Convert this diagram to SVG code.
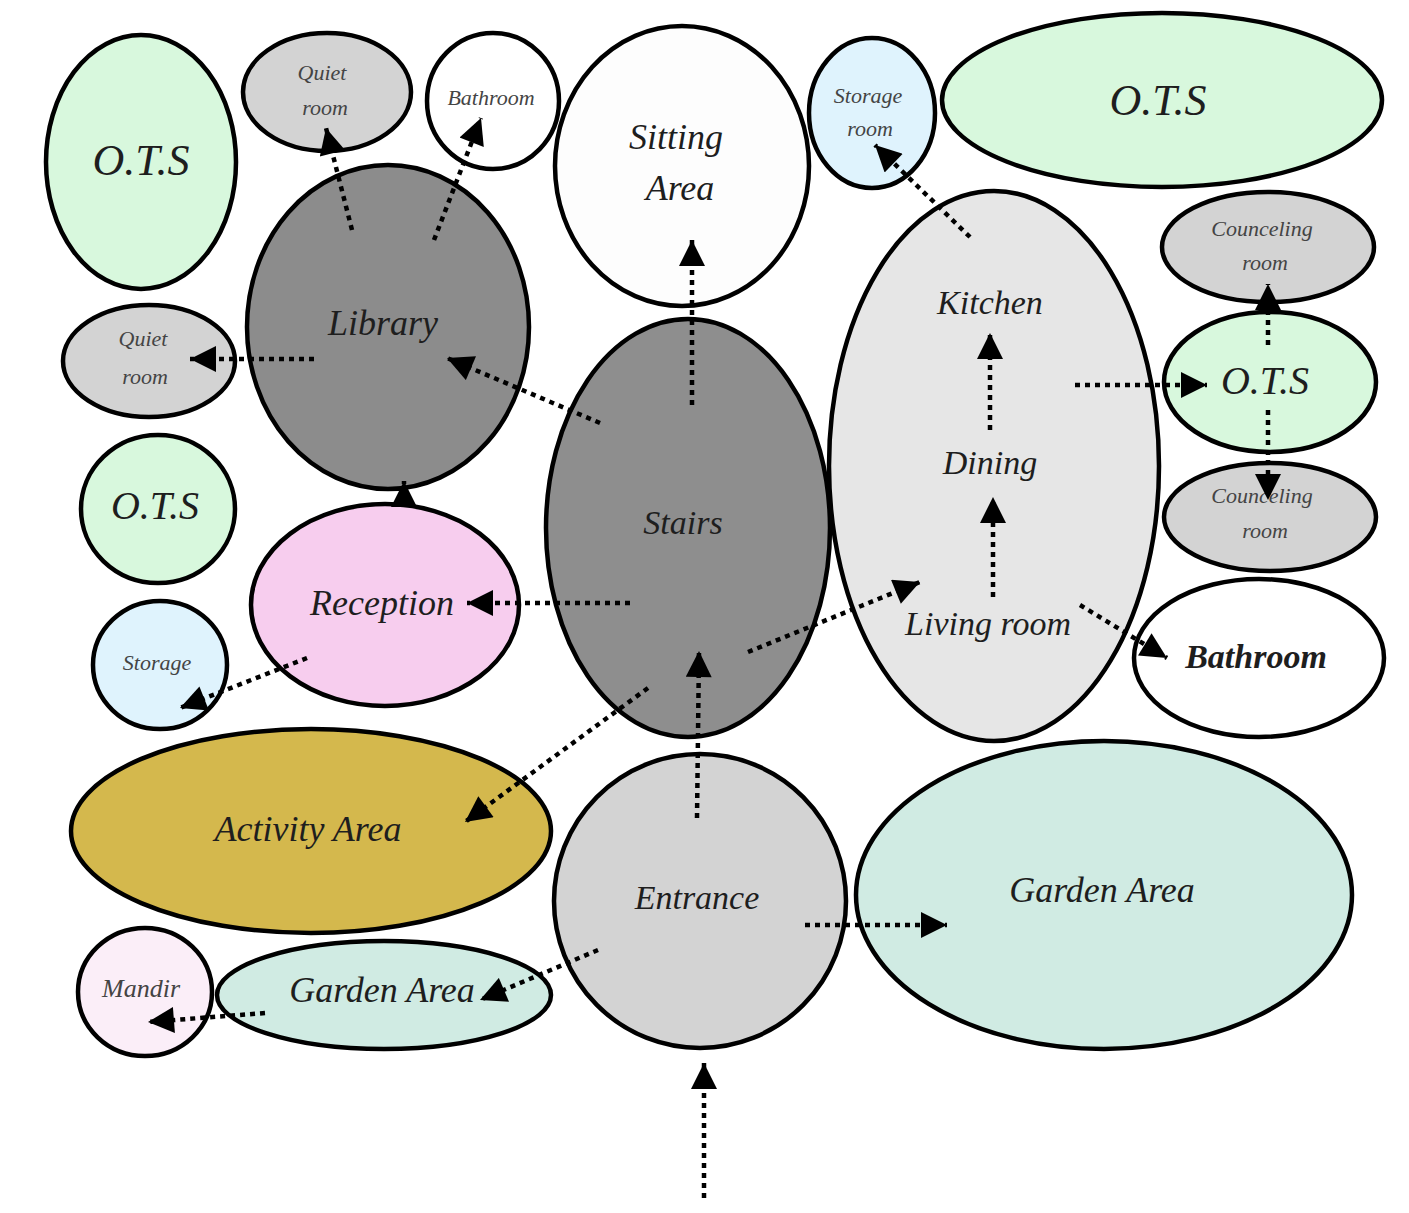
<svg xmlns="http://www.w3.org/2000/svg" width="1409" height="1213" viewBox="0 0 1409 1213">
<style>
.n{stroke:#000;stroke-width:4.5}
.t{font-family:"Liberation Serif","DejaVu Serif",serif;font-style:italic;fill:#1e1e1e;text-anchor:middle;dominant-baseline:central}
.s{fill:#444}
.c{stroke:#000;stroke-width:4.5;stroke-dasharray:5 5;fill:none}
</style>
<defs>
<marker id="ah" viewBox="0 0 10 10" refX="10" refY="5" markerUnits="userSpaceOnUse" markerWidth="28" markerHeight="26" orient="auto">
<path d="M0,0 L10,5 L0,10 z" fill="#000"/>
</marker>
</defs>
<rect width="1409" height="1213" fill="#fff"/>
<g id="ots-tl"><ellipse class="n" cx="141" cy="162" rx="95" ry="127" fill="#d8f8dd"/><text class="t" x="141" y="160" font-size="44">O.T.S</text></g>
<g id="quiet-top"><ellipse class="n" cx="327" cy="92" rx="84" ry="59" fill="#d3d3d3"/><text class="t s" x="322" y="72" font-size="22">Quiet</text><text class="t s" x="325" y="107" font-size="22">room</text></g>
<g id="bath-top"><ellipse class="n" cx="493" cy="101" rx="66" ry="68" fill="#fff"/><text class="t s" x="491" y="97" font-size="22">Bathroom</text></g>
<g id="sitting"><ellipse class="n" cx="682" cy="166" rx="127" ry="140" fill="#fdfdfd"/><text class="t" x="676" y="137" font-size="36">Sitting</text><text class="t" x="680" y="188" font-size="36">Area</text></g>
<g id="storage-room"><ellipse class="n" cx="872" cy="113" rx="63" ry="75" fill="#dff3fd"/><text class="t s" x="868" y="95" font-size="22">Storage</text><text class="t s" x="870" y="128" font-size="22">room</text></g>
<g id="ots-tr"><ellipse class="n" cx="1162" cy="100" rx="220" ry="87" fill="#d8f8dd"/><text class="t" x="1158" y="100" font-size="44">O.T.S</text></g>
<g id="library"><ellipse class="n" cx="388" cy="327" rx="141" ry="162" fill="#8c8c8c"/><text class="t" x="383" y="323" font-size="36">Library</text></g>
<g id="quiet-left"><ellipse class="n" cx="149" cy="361" rx="86" ry="56" fill="#d3d3d3"/><text class="t s" x="143" y="338" font-size="22">Quiet</text><text class="t s" x="145" y="376" font-size="22">room</text></g>
<g id="stairs"><ellipse class="n" cx="688" cy="528" rx="142" ry="209" fill="#8e8e8e"/><text class="t" x="683" y="522" font-size="34">Stairs</text></g>
<g id="kdl"><ellipse class="n" cx="994" cy="466" rx="165" ry="275" fill="#e6e6e6"/><text class="t" x="990" y="302" font-size="34">Kitchen</text><text class="t" x="990" y="462" font-size="34">Dining</text><text class="t" x="988" y="623" font-size="34">Living room</text></g>
<g id="counc-top"><ellipse class="n" cx="1268" cy="247" rx="106" ry="55" fill="#d3d3d3"/><text class="t s" x="1262" y="228" font-size="22">Counceling</text><text class="t s" x="1265" y="262" font-size="22">room</text></g>
<g id="ots-mr"><ellipse class="n" cx="1270" cy="382" rx="106" ry="70" fill="#d8f8dd"/><text class="t" x="1265" y="380" font-size="40">O.T.S</text></g>
<g id="counc-bot"><ellipse class="n" cx="1270" cy="517" rx="106" ry="54" fill="#d3d3d3"/><text class="t s" x="1262" y="495" font-size="22">Counceling</text><text class="t s" x="1265" y="530" font-size="22">room</text></g>
<g id="bath-right"><ellipse class="n" cx="1259" cy="658" rx="125" ry="79" fill="#fff"/><text class="t" x="1256" y="656" font-size="34" font-weight="bold">Bathroom</text></g>
<g id="ots-ml"><ellipse class="n" cx="158" cy="509" rx="77" ry="74" fill="#d8f8dd"/><text class="t" x="155" y="505" font-size="40">O.T.S</text></g>
<g id="reception"><ellipse class="n" cx="385" cy="605" rx="134" ry="101" fill="#f7cdee"/><text class="t" x="382" y="603" font-size="36">Reception</text></g>
<g id="storage-left"><ellipse class="n" cx="160" cy="665" rx="67" ry="64" fill="#dff3fd"/><text class="t s" x="157" y="662" font-size="22">Storage</text></g>
<g id="activity"><ellipse class="n" cx="311" cy="831" rx="240" ry="102" fill="#d4b84d"/><text class="t" x="308" y="829" font-size="36">Activity Area</text></g>
<g id="entrance"><ellipse class="n" cx="700" cy="901" rx="146" ry="147" fill="#d3d3d3"/><text class="t" x="697" y="897" font-size="34">Entrance</text></g>
<g id="garden-right"><ellipse class="n" cx="1104" cy="895" rx="248" ry="154" fill="#d0ebe3"/><text class="t" x="1102" y="890" font-size="36">Garden Area</text></g>
<g id="mandir"><ellipse class="n" cx="145" cy="992" rx="67" ry="64" fill="#fbeef8"/><text class="t s" x="141" y="988" font-size="26">Mandir</text></g>
<g id="garden-left"><ellipse class="n" cx="384" cy="995" rx="167" ry="54" fill="#d0ebe3"/><text class="t" x="382" y="990" font-size="36">Garden Area</text></g>
<g id="connectors" marker-end="url(#ah)">
<line class="c" x1="352" y1="230" x2="326" y2="128" marker-end="url(#ah)"/>
<line class="c" x1="434" y1="240" x2="481" y2="118" marker-end="url(#ah)"/>
<line class="c" x1="314" y1="359" x2="190" y2="359" marker-end="url(#ah)"/>
<line class="c" x1="600" y1="423" x2="447" y2="358" marker-end="url(#ah)"/>
<line class="c" x1="404" y1="504" x2="404" y2="481" marker-end="url(#ah)"/>
<line class="c" x1="692" y1="405" x2="692" y2="240" marker-end="url(#ah)"/>
<line class="c" x1="630" y1="603" x2="467" y2="603" marker-end="url(#ah)"/>
<line class="c" x1="307" y1="658" x2="180" y2="708" marker-end="url(#ah)"/>
<line class="c" x1="648" y1="688" x2="465" y2="822" marker-end="url(#ah)"/>
<line class="c" x1="748" y1="652" x2="920" y2="582" marker-end="url(#ah)"/>
<line class="c" x1="697" y1="818" x2="699" y2="651" marker-end="url(#ah)"/>
<line class="c" x1="970" y1="237" x2="875" y2="145" marker-end="url(#ah)"/>
<line class="c" x1="990" y1="430" x2="990" y2="333" marker-end="url(#ah)"/>
<line class="c" x1="993" y1="597" x2="993" y2="497" marker-end="url(#ah)"/>
<line class="c" x1="1075" y1="385" x2="1207" y2="385" marker-end="url(#ah)"/>
<line class="c" x1="1268" y1="345" x2="1268" y2="284" marker-end="url(#ah)"/>
<line class="c" x1="1268" y1="410" x2="1268" y2="500" marker-end="url(#ah)"/>
<line class="c" x1="1080" y1="605" x2="1167" y2="658" marker-end="url(#ah)"/>
<line class="c" x1="805" y1="925" x2="947" y2="925" marker-end="url(#ah)"/>
<line class="c" x1="598" y1="950" x2="480" y2="1000" marker-end="url(#ah)"/>
<line class="c" x1="265" y1="1013" x2="148" y2="1022" marker-end="url(#ah)"/>
<line class="c" x1="704" y1="1198" x2="704" y2="1063" marker-end="url(#ah)"/>
</g>
</svg>
